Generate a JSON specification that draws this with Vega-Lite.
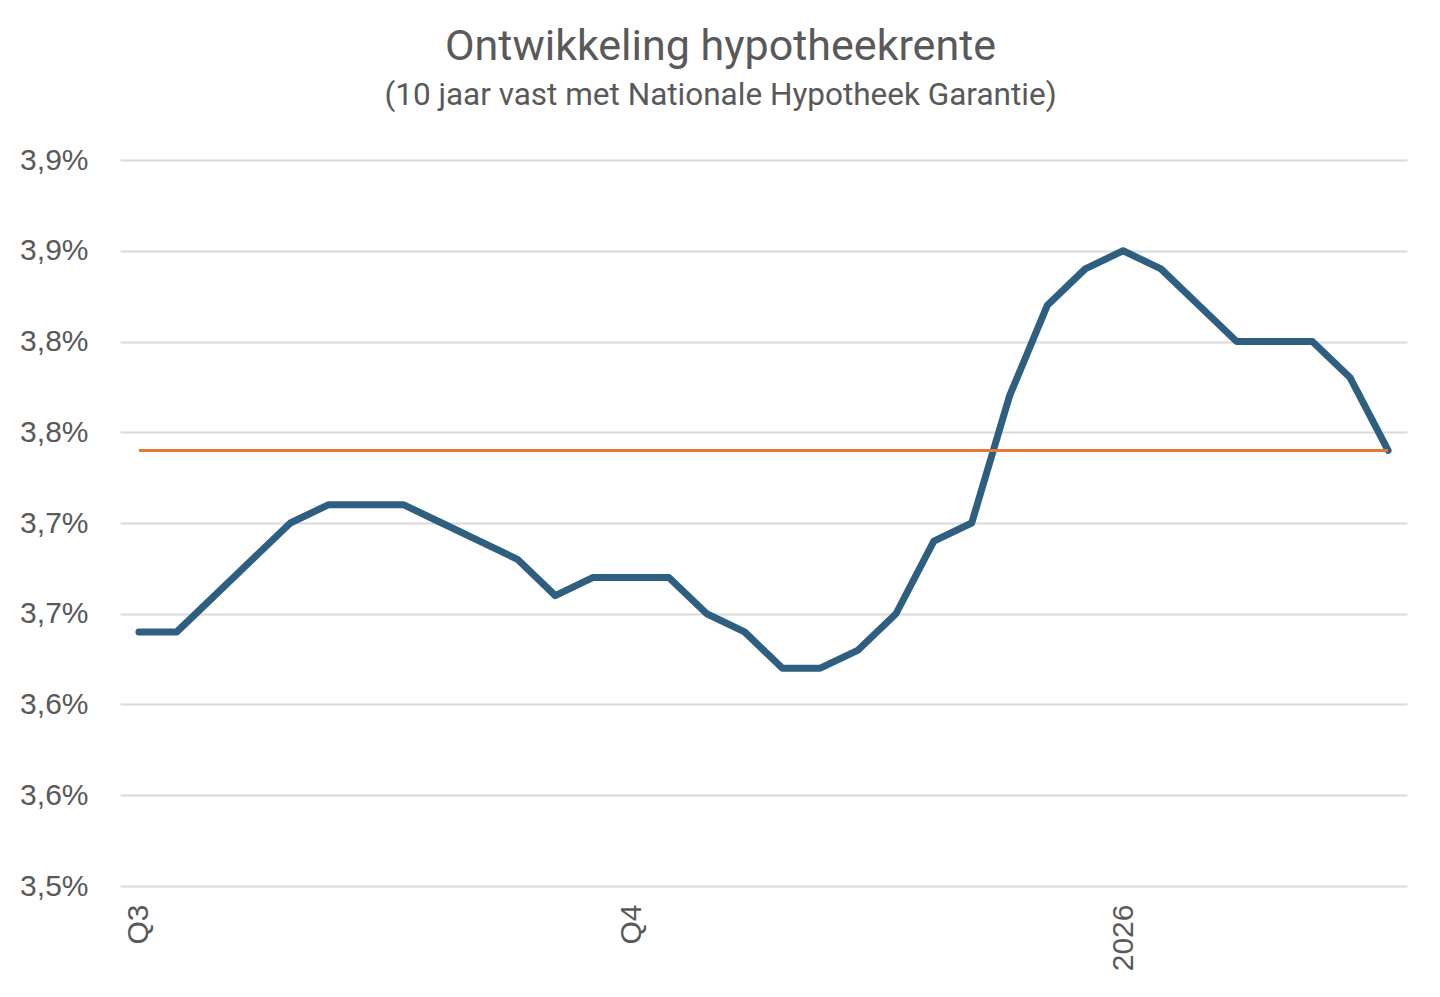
{
  "$schema": "https://vega.github.io/schema/vega-lite/v6.json",
  "autosize": "none",
  "width": 1287,
  "height": 726,
  "padding": {"left": 120, "top": 160, "right": 33, "bottom": 111},
  "background": "white",
  "view": {"stroke": null},
  "title": {
    "text": "Ontwikkeling hypotheekrente",
    "subtitle": "(10 jaar vast met Nationale Hypotheek Garantie)",
    "anchor": "middle",
    "dx": -43,
    "offset": 34,
    "font": "Roboto",
    "fontSize": 43,
    "fontWeight": "normal",
    "color": "#595959",
    "subtitleFont": "Roboto",
    "subtitleFontSize": 31.5,
    "subtitleColor": "#595959",
    "subtitlePadding": 11
  },
  "data": {
    "values": [
      {"week": 0, "rente": 3.64, "huidig": 3.74},
      {"week": 1, "rente": 3.64, "huidig": 3.74},
      {"week": 2, "rente": 3.66, "huidig": 3.74},
      {"week": 3, "rente": 3.68, "huidig": 3.74},
      {"week": 4, "rente": 3.70, "huidig": 3.74},
      {"week": 5, "rente": 3.71, "huidig": 3.74},
      {"week": 6, "rente": 3.71, "huidig": 3.74},
      {"week": 7, "rente": 3.71, "huidig": 3.74},
      {"week": 8, "rente": 3.70, "huidig": 3.74},
      {"week": 9, "rente": 3.69, "huidig": 3.74},
      {"week": 10, "rente": 3.68, "huidig": 3.74},
      {"week": 11, "rente": 3.66, "huidig": 3.74},
      {"week": 12, "rente": 3.67, "huidig": 3.74},
      {"week": 13, "rente": 3.67, "huidig": 3.74},
      {"week": 14, "rente": 3.67, "huidig": 3.74},
      {"week": 15, "rente": 3.65, "huidig": 3.74},
      {"week": 16, "rente": 3.64, "huidig": 3.74},
      {"week": 17, "rente": 3.62, "huidig": 3.74},
      {"week": 18, "rente": 3.62, "huidig": 3.74},
      {"week": 19, "rente": 3.63, "huidig": 3.74},
      {"week": 20, "rente": 3.65, "huidig": 3.74},
      {"week": 21, "rente": 3.69, "huidig": 3.74},
      {"week": 22, "rente": 3.70, "huidig": 3.74},
      {"week": 23, "rente": 3.77, "huidig": 3.74},
      {"week": 24, "rente": 3.82, "huidig": 3.74},
      {"week": 25, "rente": 3.84, "huidig": 3.74},
      {"week": 26, "rente": 3.85, "huidig": 3.74},
      {"week": 27, "rente": 3.84, "huidig": 3.74},
      {"week": 28, "rente": 3.82, "huidig": 3.74},
      {"week": 29, "rente": 3.80, "huidig": 3.74},
      {"week": 30, "rente": 3.80, "huidig": 3.74},
      {"week": 31, "rente": 3.80, "huidig": 3.74},
      {"week": 32, "rente": 3.78, "huidig": 3.74},
      {"week": 33, "rente": 3.74, "huidig": 3.74}
    ]
  },
  "encoding": {
    "x": {
      "field": "week",
      "type": "ordinal",
      "scale": {"type": "point", "padding": 0.5},
      "axis": {
        "title": null,
        "values": [0, 13, 26],
        "labelExpr": "datum.value == 0 ? 'Q3' : datum.value == 13 ? 'Q4' : '2026'",
        "labelAngle": -90,
        "labelFont": "Liberation Sans",
        "labelFontSize": 30,
        "labelColor": "#595959",
        "labelPadding": 18,
        "ticks": false,
        "domain": false,
        "grid": false
      }
    }
  },
  "layer": [
    {
      "mark": {"type": "line", "color": "#2e5f80", "strokeWidth": 7, "strokeJoin": "round", "strokeCap": "round"},
      "encoding": {
        "y": {
          "field": "rente",
          "type": "quantitative",
          "scale": {"domain": [3.5, 3.9], "zero": false, "nice": false},
          "axis": {
            "title": null,
            "values": [3.5, 3.55, 3.6, 3.65, 3.7, 3.75, 3.8, 3.85, 3.9],
            "labelExpr": "replace(format(round(datum.value * 10) / 10, '.1f'), '.', ',') + '%'",
            "labelFont": "Liberation Sans",
            "labelFontSize": 30,
            "labelColor": "#595959",
            "labelPadding": 32,
            "ticks": false,
            "domain": false,
            "grid": true,
            "gridColor": "#d9d9d9",
            "gridWidth": 2
          }
        }
      }
    },
    {
      "mark": {"type": "line", "color": "#e2793a", "strokeWidth": 3},
      "encoding": {
        "y": {"field": "huidig", "type": "quantitative"}
      }
    }
  ]
}
